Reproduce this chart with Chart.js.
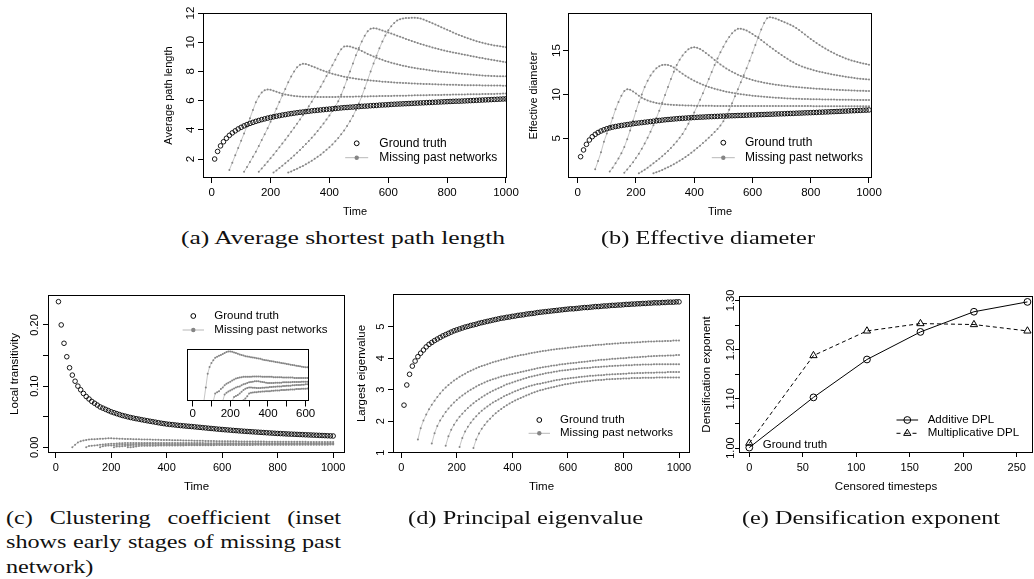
<!DOCTYPE html>
<html>
<head>
<meta charset="utf-8">
<script src="https://cdn.jsdelivr.net/npm/chart.js@4.4.1/dist/chart.umd.min.js"></script>
<style>
  body { margin: 0; width: 1034px; height: 579px; overflow: hidden; background: #fff; position: relative; }
  canvas { position: absolute; }
  .cap { position: absolute; font-family: "Liberation Serif", "Times New Roman", serif; font-size: 19px; line-height: 19px; color: #111; white-space: nowrap; transform-origin: 0 50%; }
  .just { white-space: normal; text-align: justify; text-align-last: justify; }
</style>
</head>
<body>
<canvas id="chA"></canvas>
<canvas id="chB"></canvas>
<canvas id="chC"></canvas>
<canvas id="chInset"></canvas>
<canvas id="chD"></canvas>
<canvas id="chE"></canvas>
<div class="cap" id="capA">(a) Average shortest path length</div>
<div class="cap" id="capB">(b) Effective diameter</div>
<div class="cap just" id="capC1">(c) Clustering coefficient (inset</div>
<div class="cap just" id="capC2">shows early stages of missing past</div>
<div class="cap" id="capC3">network)</div>
<div class="cap" id="capD">(d) Principal eigenvalue</div>
<div class="cap" id="capE">(e) Densification exponent</div>
<script>
// ---- data ----
const time = [10,20,30,40,50,60,70,80,90,100,110,120,130,140,150,160,170,180,190,200,
  210,220,230,240,250,260,270,280,290,300,310,320,330,340,350,360,370,380,390,400,
  410,420,430,440,450,460,470,480,490,500,510,520,530,540,550,560,570,580,590,600,
  610,620,630,640,650,660,670,680,690,700,710,720,730,740,750,760,770,780,790,800,
  810,820,830,840,850,860,870,880,890,900,910,920,930,940,950,960,970,980,990,1000];
const missingStarts = [60, 110, 160, 210, 260];

// (a) average path length
const pathGround = [2.00,2.52,2.90,3.18,3.42,3.62,3.79,3.93,4.06,4.17,
  4.27,4.36,4.44,4.51,4.58,4.64,4.70,4.75,4.80,4.85,
  4.89,4.93,4.97,5.01,5.04,5.08,5.11,5.14,5.17,5.20,
  5.22,5.25,5.27,5.30,5.32,5.34,5.36,5.38,5.40,5.42,
  5.44,5.46,5.48,5.50,5.52,5.53,5.55,5.56,5.58,5.59,
  5.61,5.62,5.63,5.65,5.66,5.67,5.69,5.70,5.71,5.72,
  5.74,5.75,5.76,5.77,5.78,5.79,5.80,5.81,5.82,5.83,
  5.84,5.85,5.86,5.87,5.88,5.89,5.90,5.91,5.92,5.93,
  5.94,5.95,5.96,5.96,5.97,5.98,5.99,6.00,6.01,6.02,
  6.03,6.04,6.05,6.06,6.07,6.08,6.09,6.10,6.11,6.12];
const pathMissing1 = [1.25,1.75,2.25,2.75,3.25,3.75,4.25,4.80,5.35,5.88,
  6.28,6.56,6.71,6.76,6.74,6.68,6.61,6.54,6.47,6.42,
  6.38,6.35,6.32,6.30,6.28,6.27,6.27,6.26,6.26,6.26,
  6.25,6.25,6.25,6.25,6.25,6.25,6.25,6.26,6.26,6.26,
  6.27,6.27,6.27,6.28,6.28,6.28,6.29,6.29,6.30,6.30,
  6.30,6.31,6.31,6.32,6.32,6.32,6.33,6.33,6.34,6.34,
  6.34,6.35,6.35,6.36,6.36,6.36,6.37,6.37,6.38,6.38,
  6.38,6.39,6.39,6.40,6.40,6.40,6.41,6.41,6.42,6.42,
  6.42,6.43,6.43,6.44,6.44,6.44,6.45,6.45,6.46,6.46,
  6.46,6.47,6.47,6.48,6.48];
const pathMissing2 = [1.13,1.45,1.80,2.15,2.50,2.90,3.30,3.70,4.10,4.55,
  5.00,5.45,5.90,6.35,6.80,7.25,7.65,8.00,8.28,8.45,
  8.52,8.50,8.44,8.36,8.28,8.20,8.12,8.04,7.97,7.90,
  7.84,7.78,7.73,7.68,7.64,7.60,7.56,7.53,7.50,7.47,
  7.45,7.42,7.40,7.38,7.36,7.34,7.32,7.30,7.29,7.27,
  7.26,7.24,7.23,7.22,7.21,7.20,7.19,7.18,7.17,7.16,
  7.15,7.14,7.14,7.13,7.12,7.12,7.11,7.10,7.10,7.09,
  7.09,7.08,7.08,7.07,7.07,7.06,7.06,7.06,7.05,7.05,
  7.05,7.04,7.04,7.04,7.03,7.03,7.03,7.03,7.02,7.02];
const pathMissing3 = [1.13,1.35,1.58,1.82,2.06,2.30,2.55,2.80,3.06,3.32,
  3.59,3.86,4.14,4.42,4.71,5.00,5.30,5.61,5.93,6.26,
  6.60,6.95,7.31,7.68,8.05,8.42,8.80,9.20,9.52,9.70,
  9.73,9.70,9.64,9.57,9.49,9.40,9.30,9.20,9.11,9.02,
  8.94,8.86,8.79,8.72,8.66,8.60,8.54,8.49,8.44,8.39,
  8.35,8.31,8.27,8.23,8.20,8.17,8.14,8.11,8.08,8.05,
  8.03,8.00,7.98,7.96,7.94,7.92,7.90,7.88,7.86,7.84,
  7.82,7.80,7.79,7.77,7.75,7.74,7.72,7.71,7.70,7.69,
  7.68,7.67,7.67,7.66,7.66];
const pathMissing4 = [1.07,1.22,1.38,1.54,1.71,1.88,2.06,2.24,2.43,2.62,
  2.82,3.02,3.23,3.45,3.68,3.92,4.17,4.43,4.70,4.98,
  5.28,5.60,5.95,6.40,6.90,7.45,8.00,8.55,9.10,9.60,
  10.05,10.45,10.75,10.92,10.96,10.93,10.87,10.80,10.73,10.66,
  10.59,10.52,10.45,10.38,10.31,10.22,10.15,10.08,10.01,9.94,
  9.88,9.82,9.76,9.70,9.64,9.58,9.53,9.48,9.43,9.38,
  9.34,9.30,9.26,9.22,9.18,9.14,9.10,9.06,9.02,8.98,
  8.94,8.91,8.87,8.84,8.80,8.77,8.73,8.70,8.66,8.63];
const pathMissing5 = [1.07,1.15,1.24,1.33,1.43,1.53,1.64,1.76,1.88,2.01,
  2.15,2.30,2.46,2.63,2.81,3.00,3.21,3.44,3.69,3.96,
  4.26,4.59,4.95,5.35,5.80,6.30,6.85,7.42,8.00,8.55,
  9.08,9.58,10.05,10.46,10.82,11.10,11.32,11.48,11.58,11.63,
  11.65,11.66,11.67,11.67,11.66,11.62,11.55,11.47,11.39,11.30,
  11.21,11.12,11.03,10.94,10.85,10.76,10.67,10.58,10.50,10.42,
  10.34,10.27,10.20,10.13,10.07,10.01,9.96,9.91,9.86,9.82,
  9.78,9.75,9.72,9.69,9.66];

// (b) effective diameter
const diamGround = [2.90,3.67,4.31,4.80,5.18,5.45,5.66,5.83,5.97,6.09,
  6.19,6.27,6.34,6.40,6.46,6.51,6.56,6.61,6.66,6.71,
  6.75,6.79,6.83,6.87,6.91,6.95,6.99,7.03,7.07,7.11,
  7.14,7.17,7.20,7.23,7.26,7.28,7.30,7.33,7.35,7.37,
  7.39,7.41,7.42,7.44,7.46,7.47,7.49,7.50,7.52,7.53,
  7.54,7.56,7.57,7.58,7.60,7.61,7.62,7.63,7.65,7.66,
  7.67,7.69,7.70,7.71,7.73,7.74,7.75,7.77,7.78,7.79,
  7.80,7.82,7.83,7.84,7.86,7.87,7.88,7.90,7.91,7.92,
  7.94,7.95,7.97,7.98,8.00,8.01,8.03,8.04,8.06,8.07,
  8.09,8.10,8.12,8.14,8.15,8.17,8.18,8.20,8.21,8.23];
const diamMissing1 = [1.47,2.40,3.40,4.60,5.55,6.35,7.30,8.30,9.15,9.85,
  10.40,10.60,10.55,10.35,10.10,9.85,9.62,9.45,9.32,9.20,
  9.10,9.02,8.96,8.92,8.88,8.85,8.83,8.81,8.79,8.77,
  8.76,8.75,8.74,8.73,8.72,8.72,8.71,8.71,8.70,8.70,
  8.70,8.69,8.69,8.69,8.68,8.68,8.68,8.68,8.68,8.68,
  8.68,8.68,8.68,8.68,8.68,8.68,8.68,8.68,8.68,8.68,
  8.68,8.68,8.68,8.67,8.67,8.67,8.67,8.67,8.67,8.67,
  8.67,8.67,8.67,8.67,8.67,8.66,8.66,8.66,8.66,8.66,
  8.66,8.66,8.66,8.66,8.66,8.66,8.66,8.66,8.66,8.66,
  8.66,8.66,8.66,8.66,8.66];
const diamMissing2 = [1.20,1.65,2.15,2.70,3.30,4.00,4.90,5.90,7.00,8.10,
  9.10,10.00,10.85,11.55,12.15,12.62,12.98,13.22,13.36,13.40,
  13.36,13.24,13.06,12.84,12.60,12.36,12.13,11.92,11.73,11.56,
  11.40,11.25,11.11,10.98,10.86,10.75,10.65,10.56,10.47,10.39,
  10.32,10.25,10.19,10.13,10.08,10.03,9.98,9.94,9.90,9.86,
  9.83,9.80,9.77,9.74,9.71,9.68,9.66,9.63,9.61,9.59,
  9.57,9.55,9.54,9.52,9.51,9.50,9.49,9.48,9.47,9.46,
  9.45,9.44,9.44,9.43,9.42,9.42,9.41,9.41,9.40,9.40,
  9.40,9.39,9.39,9.39,9.38,9.38,9.38,9.37,9.37,9.37];
const diamMissing3 = [1.08,1.45,1.85,2.28,2.75,3.25,3.80,4.40,5.05,5.75,
  6.50,7.30,8.15,9.05,9.95,10.85,11.75,12.60,13.35,13.95,
  14.45,14.85,15.15,15.32,15.38,15.32,15.18,14.98,14.74,14.48,
  14.21,13.94,13.68,13.43,13.19,12.97,12.77,12.58,12.41,12.25,
  12.11,11.98,11.86,11.75,11.65,11.56,11.48,11.41,11.34,11.28,
  11.22,11.17,11.12,11.07,11.03,10.99,10.95,10.91,10.88,10.85,
  10.82,10.79,10.76,10.73,10.71,10.68,10.66,10.64,10.62,10.60,
  10.58,10.56,10.54,10.53,10.51,10.50,10.48,10.47,10.46,10.44,
  10.43,10.42,10.41,10.40,10.39];
const diamMissing4 = [1.00,1.20,1.42,1.65,1.89,2.14,2.40,2.67,2.95,3.24,
  3.56,3.90,4.26,4.64,5.05,5.50,6.05,6.65,7.30,7.95,
  8.65,9.40,10.15,10.95,11.75,12.55,13.35,14.10,14.80,15.45,
  16.05,16.55,16.98,17.30,17.48,17.50,17.42,17.28,17.10,16.90,
  16.68,16.45,16.20,15.95,15.70,15.45,15.20,14.96,14.72,14.49,
  14.27,14.06,13.85,13.66,13.48,13.32,13.19,13.07,12.96,12.86,
  12.77,12.68,12.60,12.52,12.45,12.38,12.31,12.25,12.19,12.13,
  12.07,12.02,11.97,11.92,11.87,11.83,11.79,11.76,11.73,11.70];
const diamMissing5 = [1.00,1.12,1.25,1.39,1.54,1.70,1.87,2.05,2.24,2.44,
  2.65,2.87,3.10,3.35,3.61,3.88,4.16,4.45,4.75,5.06,
  5.38,5.71,6.05,6.45,6.95,7.55,8.25,9.00,9.80,10.60,
  11.40,12.20,13.00,13.85,14.75,15.65,16.55,17.40,18.15,18.70,
  18.80,18.75,18.65,18.52,18.38,18.24,18.10,17.95,17.78,17.58,
  17.35,17.10,16.84,16.58,16.33,16.09,15.86,15.64,15.43,15.23,
  15.04,14.86,14.69,14.53,14.38,14.24,14.11,13.99,13.88,13.78,
  13.69,13.61,13.53,13.46,13.40];

// (c) local transitivity
const clustGround = [0.238,0.200,0.170,0.148,0.130,0.118,0.108,0.100,0.094,0.088,
  0.083,0.079,0.075,0.072,0.069,0.066,0.064,0.062,0.060,0.058,
  0.0565,0.055,0.0535,0.052,0.051,0.0498,0.0487,0.0477,0.0468,0.0460,
  0.0451,0.0442,0.0434,0.0426,0.0418,0.0410,0.0402,0.0394,0.0387,0.0380,
  0.0375,0.0370,0.0365,0.0360,0.0355,0.0351,0.0347,0.0343,0.0339,0.0335,
  0.0330,0.0326,0.0321,0.0317,0.0312,0.0308,0.0304,0.0299,0.0295,0.0291,
  0.0287,0.0284,0.0280,0.0276,0.0273,0.0269,0.0266,0.0262,0.0259,0.0256,
  0.0253,0.0250,0.0247,0.0244,0.0241,0.0238,0.0235,0.0232,0.0229,0.0226,
  0.0224,0.0222,0.0219,0.0217,0.0215,0.0213,0.0211,0.0209,0.0207,0.0205,
  0.0203,0.0201,0.0199,0.0197,0.0195,0.0193,0.0191,0.0189,0.0187,0.0185];
const clustMissing1 = [0.0000,0.0040,0.0080,0.0100,0.0112,0.0120,0.0127,0.0130,0.0133,0.0135,
  0.0138,0.0141,0.0144,0.0146,0.0146,0.0145,0.0143,0.0141,0.0139,0.0137,
  0.0135,0.0134,0.0132,0.0131,0.0130,0.0129,0.0128,0.0127,0.0126,0.0125,
  0.0124,0.0122,0.0121,0.0120,0.0119,0.0118,0.0117,0.0116,0.0115,0.0114,
  0.0113,0.0112,0.0111,0.0110,0.0109,0.0108,0.0107,0.0106,0.0105,0.0104,
  0.0103,0.0102,0.0101,0.0100,0.0099,0.0099,0.0098,0.0098,0.0097,0.0097,
  0.0096,0.0096,0.0095,0.0095,0.0094,0.0094,0.0094,0.0093,0.0093,0.0093,
  0.0092,0.0092,0.0092,0.0091,0.0091,0.0091,0.0091,0.0090,0.0090,0.0090,
  0.0090,0.0089,0.0089,0.0089,0.0089,0.0088,0.0088,0.0088,0.0088,0.0088,
  0.0087,0.0087,0.0087,0.0087,0.0087];
const clustMissing2 = [0.0000,0.0022,0.0026,0.0029,0.0035,0.0040,0.0046,0.0051,0.0054,0.0057,
  0.0060,0.0063,0.0066,0.0068,0.0069,0.0070,0.0071,0.0071,0.0071,0.0071,
  0.0071,0.0072,0.0072,0.0072,0.0072,0.0072,0.0071,0.0071,0.0071,0.0071,
  0.0071,0.0071,0.0070,0.0070,0.0070,0.0070,0.0070,0.0069,0.0069,0.0069,
  0.0069,0.0069,0.0069,0.0068,0.0068,0.0068,0.0068,0.0068,0.0068,0.0068,
  0.0068,0.0067,0.0067,0.0067,0.0067,0.0067,0.0067,0.0067,0.0066,0.0066,
  0.0066,0.0066,0.0066,0.0066,0.0066,0.0066,0.0066,0.0066,0.0066,0.0066,
  0.0066,0.0065,0.0065,0.0065,0.0065,0.0065,0.0065,0.0065,0.0065,0.0065,
  0.0065,0.0065,0.0065,0.0065,0.0065,0.0065,0.0065,0.0065,0.0065,0.0065];
const clustMissing3 = [0.0000,0.0019,0.0024,0.0028,0.0031,0.0034,0.0037,0.0040,0.0042,0.0043,
  0.0046,0.0049,0.0051,0.0053,0.0055,0.0056,0.0057,0.0058,0.0058,0.0058,
  0.0057,0.0056,0.0055,0.0054,0.0053,0.0053,0.0053,0.0053,0.0054,0.0054,
  0.0054,0.0054,0.0055,0.0055,0.0055,0.0055,0.0055,0.0056,0.0056,0.0056,
  0.0056,0.0056,0.0057,0.0057,0.0057,0.0057,0.0057,0.0057,0.0057,0.0057,
  0.0057,0.0057,0.0057,0.0057,0.0057,0.0057,0.0058,0.0058,0.0058,0.0058,
  0.0058,0.0058,0.0058,0.0058,0.0058,0.0058,0.0058,0.0058,0.0058,0.0058,
  0.0058,0.0058,0.0058,0.0058,0.0058,0.0058,0.0058,0.0058,0.0058,0.0058,
  0.0058,0.0058,0.0058,0.0058,0.0058];
const clustMissing4 = [0.0000,0.0012,0.0015,0.0018,0.0022,0.0027,0.0032,0.0036,0.0038,0.0040,
  0.0040,0.0039,0.0039,0.0038,0.0038,0.0038,0.0039,0.0039,0.0040,0.0040,
  0.0041,0.0041,0.0042,0.0042,0.0043,0.0043,0.0043,0.0044,0.0044,0.0045,
  0.0045,0.0045,0.0046,0.0046,0.0047,0.0047,0.0047,0.0048,0.0048,0.0049,
  0.0049,0.0050,0.0050,0.0050,0.0050,0.0050,0.0051,0.0051,0.0051,0.0051,
  0.0051,0.0051,0.0051,0.0052,0.0052,0.0052,0.0052,0.0052,0.0052,0.0052,
  0.0052,0.0052,0.0052,0.0052,0.0052,0.0052,0.0053,0.0053,0.0053,0.0053,
  0.0053,0.0053,0.0053,0.0053,0.0053,0.0053,0.0053,0.0053,0.0053,0.0053];
const clustMissing5 = [0.0000,0.0002,0.0007,0.0014,0.0022,0.0024,0.0025,0.0026,0.0026,0.0027,
  0.0027,0.0028,0.0028,0.0029,0.0029,0.0029,0.0030,0.0030,0.0031,0.0031,
  0.0031,0.0032,0.0032,0.0032,0.0033,0.0033,0.0034,0.0034,0.0034,0.0035,
  0.0035,0.0035,0.0036,0.0036,0.0036,0.0037,0.0037,0.0037,0.0038,0.0038,
  0.0038,0.0038,0.0039,0.0039,0.0039,0.0039,0.0040,0.0040,0.0040,0.0040,
  0.0040,0.0041,0.0041,0.0041,0.0041,0.0041,0.0042,0.0042,0.0042,0.0042,
  0.0042,0.0042,0.0042,0.0043,0.0043,0.0043,0.0043,0.0043,0.0043,0.0043,
  0.0043,0.0043,0.0043,0.0044,0.0044];

// (d) largest eigenvalue
const eigGround = [2.51,3.15,3.49,3.75,3.91,4.05,4.16,4.26,4.36,4.44,
  4.50,4.56,4.61,4.66,4.71,4.75,4.79,4.83,4.87,4.90,
  4.93,4.96,4.99,5.01,5.04,5.06,5.08,5.11,5.13,5.15,
  5.17,5.19,5.21,5.23,5.25,5.27,5.28,5.30,5.31,5.33,
  5.34,5.36,5.37,5.38,5.40,5.41,5.42,5.43,5.45,5.46,
  5.47,5.48,5.49,5.50,5.51,5.52,5.53,5.54,5.55,5.56,
  5.57,5.57,5.58,5.59,5.60,5.61,5.61,5.62,5.63,5.64,
  5.64,5.65,5.66,5.66,5.67,5.68,5.68,5.69,5.69,5.70,
  5.71,5.71,5.72,5.72,5.73,5.73,5.74,5.74,5.75,5.75,
  5.76,5.76,5.76,5.77,5.77,5.78,5.78,5.78,5.79,5.79];
const eigMissing1 = [1.42,1.78,2.02,2.21,2.38,2.52,2.65,2.77,2.88,2.98,
  3.07,3.15,3.22,3.29,3.35,3.41,3.46,3.51,3.56,3.60,
  3.64,3.68,3.72,3.75,3.78,3.81,3.84,3.87,3.90,3.92,
  3.95,3.97,3.99,4.02,4.04,4.06,4.08,4.10,4.11,4.13,
  4.15,4.17,4.18,4.20,4.21,4.23,4.24,4.25,4.27,4.28,
  4.29,4.30,4.31,4.32,4.33,4.34,4.35,4.36,4.37,4.38,
  4.39,4.40,4.40,4.41,4.42,4.43,4.43,4.44,4.45,4.45,
  4.46,4.47,4.47,4.48,4.48,4.49,4.49,4.50,4.50,4.51,
  4.51,4.52,4.52,4.53,4.53,4.53,4.54,4.54,4.54,4.55,
  4.55,4.55,4.56,4.56,4.56];
const eigMissing2 = [1.29,1.62,1.85,2.02,2.16,2.29,2.40,2.50,2.59,2.67,
  2.75,2.82,2.88,2.94,3.00,3.05,3.10,3.15,3.19,3.23,
  3.27,3.30,3.33,3.36,3.39,3.42,3.44,3.46,3.48,3.50,
  3.52,3.54,3.56,3.58,3.60,3.62,3.64,3.66,3.68,3.70,
  3.71,3.73,3.74,3.76,3.77,3.78,3.80,3.81,3.82,3.83,
  3.84,3.85,3.86,3.87,3.88,3.89,3.90,3.91,3.92,3.93,
  3.94,3.95,3.95,3.96,3.97,3.98,3.98,3.99,4.00,4.00,
  4.01,4.02,4.02,4.03,4.03,4.04,4.05,4.05,4.06,4.06,
  4.07,4.07,4.08,4.08,4.08,4.09,4.09,4.09,4.10,4.10];
const eigMissing3 = [1.22,1.52,1.73,1.89,2.02,2.14,2.24,2.33,2.42,2.50,
  2.57,2.64,2.70,2.76,2.82,2.87,2.92,2.97,3.01,3.05,
  3.09,3.13,3.17,3.20,3.23,3.26,3.29,3.32,3.35,3.37,
  3.40,3.42,3.44,3.46,3.48,3.50,3.52,3.54,3.55,3.57,
  3.58,3.60,3.61,3.62,3.63,3.64,3.65,3.66,3.67,3.68,
  3.69,3.69,3.70,3.71,3.72,3.72,3.73,3.74,3.74,3.75,
  3.75,3.76,3.76,3.77,3.77,3.78,3.78,3.78,3.79,3.79,
  3.79,3.80,3.80,3.80,3.80,3.81,3.81,3.81,3.81,3.81,
  3.81,3.81,3.81,3.81,3.81];
const eigMissing4 = [1.18,1.47,1.67,1.82,1.95,2.06,2.16,2.25,2.33,2.40,
  2.47,2.53,2.59,2.64,2.69,2.74,2.79,2.83,2.87,2.91,
  2.95,2.98,3.02,3.05,3.08,3.11,3.13,3.16,3.18,3.19,
  3.21,3.23,3.25,3.27,3.29,3.31,3.32,3.34,3.35,3.36,
  3.37,3.38,3.39,3.40,3.41,3.42,3.43,3.44,3.44,3.45,
  3.46,3.46,3.47,3.48,3.48,3.49,3.49,3.50,3.50,3.51,
  3.51,3.52,3.52,3.52,3.53,3.53,3.53,3.54,3.54,3.54,
  3.54,3.55,3.55,3.55,3.55,3.56,3.56,3.56,3.56,3.56];
const eigMissing5 = [1.15,1.42,1.61,1.76,1.88,1.99,2.08,2.17,2.25,2.32,
  2.39,2.45,2.51,2.56,2.61,2.66,2.70,2.74,2.78,2.82,
  2.85,2.89,2.92,2.95,2.98,3.00,3.03,3.05,3.07,3.09,
  3.11,3.13,3.15,3.17,3.18,3.20,3.21,3.23,3.24,3.25,
  3.26,3.27,3.28,3.29,3.30,3.31,3.31,3.32,3.33,3.33,
  3.34,3.34,3.35,3.35,3.36,3.36,3.36,3.37,3.37,3.37,
  3.37,3.38,3.38,3.38,3.38,3.38,3.39,3.39,3.39,3.39,
  3.39,3.39,3.39,3.39,3.39];

// (e) densification exponent
const censored = [0, 60, 110, 160, 210, 260];
const additiveDPL = [1.001, 1.103, 1.180, 1.236, 1.277, 1.297];
const multiplicativeDPL = [1.010, 1.188, 1.238, 1.253, 1.251, 1.238];

// tick values and labels
const timeTicks = [0, 200, 400, 600, 800, 1000];
const timeLabels = ['0', '200', '400', '600', '800', '1000'];
const pathTicks = [2, 4, 6, 8, 10, 12];
const pathLabels = ['2', '4', '6', '8', '10', '12'];
const diamTicks = [5, 10, 15];
const diamLabels = ['5', '10', '15'];
const clustTicks = [0, 0.05, 0.10, 0.15, 0.20];
const clustLabels = ['0.00', '', '0.10', '', '0.20'];
const eigTicks = [1, 2, 3, 4, 5];
const eigLabels = ['1', '2', '3', '4', '5'];
const insetTicks = [0, 100, 200, 300, 400, 500, 600];
const insetLabels = ['0', '', '200', '', '400', '', '600'];
const censorTicks = [0, 50, 100, 150, 200, 250];
const censorLabels = ['0', '50', '100', '150', '200', '250'];
const densTicks = [1.00, 1.05, 1.10, 1.15, 1.20, 1.25, 1.30];
const densLabels = ['1.00', '', '1.10', '', '1.20', '', '1.30'];

// ---- drawing ----
const SANS = '"Liberation Sans", Arial, Helvetica, sans-serif';
Chart.defaults.font.family = SANS;
const GREY_LINE = '#b8b8b8', GREY_DOT = '#858585';

function ground(vals) {
  return {
    data: vals.map((v, i) => ({x: time[i], y: v})), showLine: false, order: 0,
    pointRadius: 2.3, pointBorderWidth: 0.9, pointBorderColor: '#000', pointBackgroundColor: 'rgba(0,0,0,0)'
  };
}
function missing(series) {
  return series.map((vals, k) => {
    const s = time.indexOf(missingStarts[k]);
    return {
      data: vals.map((v, i) => ({x: time[s + i], y: v})), order: 1,
      borderColor: GREY_LINE, borderWidth: 0.8, pointRadius: 1.0, pointBorderWidth: 0, pointBackgroundColor: GREY_DOT
    };
  });
}

// box round the plot region, like R's box()
const frame = {
  id: 'frame',
  beforeDatasetsDraw(chart, args, o) {
    if (!o || !o.fill) return;
    const a = chart.chartArea, ctx = chart.ctx;
    ctx.save(); ctx.fillStyle = o.fill;
    ctx.fillRect(a.left, a.top, a.right - a.left, a.bottom - a.top);
    ctx.restore();
  },
  afterDatasetsDraw(chart) {
    const a = chart.chartArea, ctx = chart.ctx;
    ctx.save(); ctx.strokeStyle = '#000'; ctx.lineWidth = 1;
    ctx.strokeRect(a.left + 0.5, a.top + 0.5, a.right - a.left - 1, a.bottom - a.top - 1);
    ctx.restore();
  }
};

// legend in the style of R's legend(bty = "n")
const rLegend = {
  id: 'rlegend',
  afterDraw(chart, args, o) {
    if (!o || !o.rows) return;
    const ctx = chart.ctx, a = chart.chartArea;
    ctx.save();
    ctx.font = o.size + 'px ' + SANS;
    ctx.textBaseline = 'middle';
    o.rows.forEach(r => {
      const cx = a.left + o.symX, cy = a.top + r.y, h = o.half;
      ctx.lineWidth = 1;
      if (r.sym === 'grey') {
        ctx.strokeStyle = GREY_LINE;
        ctx.beginPath(); ctx.moveTo(cx - h, cy); ctx.lineTo(cx + h, cy); ctx.stroke();
        ctx.fillStyle = GREY_DOT;
        ctx.beginPath(); ctx.arc(cx, cy, 2.2, 0, Math.PI * 2); ctx.fill();
      } else {
        ctx.strokeStyle = '#000';
        if (r.sym !== 'open') {
          ctx.setLineDash(r.sym === 'dashTri' ? [4, 4] : []);
          ctx.beginPath(); ctx.moveTo(cx - h, cy); ctx.lineTo(cx + h, cy); ctx.stroke();
          ctx.setLineDash([]);
        }
        ctx.fillStyle = 'rgba(0,0,0,0)';
        Chart.helpers.drawPoint(ctx, {
          pointStyle: r.sym === 'dashTri' ? 'triangle' : 'circle',
          radius: r.sym === 'open' ? 2.4 : (r.sym === 'dashTri' ? 4.2 : 3.4),
          borderWidth: 1, rotation: 0
        }, cx, cy);
      }
      ctx.fillStyle = '#000';
      ctx.fillText(r.text, a.left + o.textX, cy);
    });
    (o.notes || []).forEach(n => {
      ctx.fillStyle = '#000';
      ctx.fillText(n.text, a.left + n.x, a.top + n.y);
    });
    ctx.restore();
  }
};

const measureCtx = document.createElement('canvas').getContext('2d');
function textWidth(s, size) { measureCtx.font = size + 'px ' + SANS; return measureCtx.measureText(s).width; }

const PAD_L = 50, PAD_T = 12, PAD_R = 20, PAD_B = 46;

function makePanel(id, p) {
  const cv = document.getElementById(id);
  cv.width = p.box.r - p.box.l + PAD_L + PAD_R;
  cv.height = p.box.b - p.box.t + PAD_T + PAD_B;
  cv.style.left = (p.box.l - PAD_L) + 'px';
  cv.style.top = (p.box.t - PAD_T) + 'px';
  const tl = p.tick;
  const widest = Math.max(...p.yLabels.map(s => textWidth(s, p.fs)));
  const tickFont = {family: SANS, size: p.fs};
  const titleFont = {family: SANS, size: p.tfs};
  const tickGrid = {drawOnChartArea: false, drawTicks: true, tickLength: tl, color: '#000', lineWidth: 1};
  return new Chart(cv, {
    type: 'line',
    data: {datasets: p.datasets},
    options: {
      responsive: false, animation: false, devicePixelRatio: 1,
      layout: {padding: {left: 0, top: PAD_T, right: PAD_R, bottom: 0}},
      plugins: {legend: {display: false}, tooltip: {enabled: false}, rlegend: p.legend},
      scales: {
        x: {
          type: 'linear', position: 'bottom', min: p.xRange[0], max: p.xRange[1],
          afterBuildTicks: s => { s.ticks = p.xTicks.map(v => ({value: v})); },
          afterFit: s => { s.height = PAD_B; },
          border: {display: false}, grid: tickGrid,
          ticks: {autoSkip: false, minRotation: 0, maxRotation: 0, color: '#000', font: tickFont,
            padding: p.xLab - tl - p.fs * 0.6, callback: (v, i) => p.xLabels[i]},
          title: {display: true, text: p.xTitle, color: '#000', font: titleFont,
            padding: {top: 0, bottom: PAD_B - p.xTit - p.tfs * 0.6}}
        },
        y: {
          type: 'linear', position: 'left', min: p.yRange[0], max: p.yRange[1],
          afterBuildTicks: s => { s.ticks = p.yTicks.map(v => ({value: v})); },
          afterFit: s => { s.width = PAD_L; },
          border: {display: false}, grid: tickGrid,
          ticks: {autoSkip: false, minRotation: 90, maxRotation: 90, crossAlign: 'center', color: '#000', font: tickFont,
            padding: p.yLab - tl - widest / 2, callback: (v, i) => p.yLabels[i]},
          title: {display: true, text: p.yTitle, color: '#000', font: titleFont,
            padding: {top: PAD_L - p.yTit - p.tfs * 0.6, bottom: 0}}
        }
      }
    },
    plugins: [frame, rLegend]
  });
}

const topLegend = (symX, textX, y1, y2) => ({size: 12, symX, textX, half: 11.5,
  rows: [{sym: 'open', text: 'Ground truth', y: y1}, {sym: 'grey', text: 'Missing past networks', y: y2}]});
const lowLegend = (symX, textX, y1, y2) => ({size: 11.5, symX, textX, half: 10.7,
  rows: [{sym: 'open', text: 'Ground truth', y: y1}, {sym: 'grey', text: 'Missing past networks', y: y2}]});

makePanel('chA', {
  box: {l: 203, t: 13, r: 507, b: 178}, xRange: [-29.6, 1003.4], yRange: [0.70, 12.0],
  xTicks: timeTicks, xLabels: timeLabels, yTicks: pathTicks, yLabels: pathLabels,
  xTitle: 'Time', yTitle: 'Average path length', fs: 11.5, tfs: 11, tick: 5,
  xLab: 15, xTit: 34.4, yLab: 12.6, yTit: 34,
  datasets: [ground(pathGround), ...missing([pathMissing1, pathMissing2, pathMissing3, pathMissing4, pathMissing5])],
  legend: topLegend(153.7, 176.3, 130.3, 144.7)
});

makePanel('chB', {
  box: {l: 568, t: 13, r: 872, b: 178}, xRange: [-33.3, 1010.3], yRange: [0.47, 19.29],
  xTicks: timeTicks, xLabels: timeLabels, yTicks: diamTicks, yLabels: diamLabels,
  xTitle: 'Time', yTitle: 'Effective diameter', fs: 11.5, tfs: 11, tick: 5,
  xLab: 15, xTit: 34.4, yLab: 10.7, yTit: 34,
  datasets: [ground(diamGround), ...missing([diamMissing1, diamMissing2, diamMissing3, diamMissing4, diamMissing5])],
  legend: topLegend(155.3, 177, 129.7, 144.7)
});

const clustSeries = [clustMissing1, clustMissing2, clustMissing3, clustMissing4, clustMissing5];
makePanel('chC', {
  box: {l: 48, t: 295, r: 345, b: 453}, xRange: [-27.7, 1042.6], yRange: [-0.0093, 0.2489],
  xTicks: timeTicks, xLabels: timeLabels, yTicks: clustTicks, yLabels: clustLabels,
  xTitle: 'Time', yTitle: 'Local transitivity', fs: 11, tfs: 11.5, tick: 5,
  xLab: 15, xTit: 34, yLab: 12.7, yTit: 32.7,
  datasets: [ground(clustGround), ...missing(clustSeries)],
  legend: lowLegend(145.3, 166.3, 21, 35)
});

makePanel('chD', {
  box: {l: 393, t: 294, r: 690, b: 453}, xRange: [-29.6, 1039.6], yRange: [0.99, 6.04],
  xTicks: timeTicks, xLabels: timeLabels, yTicks: eigTicks, yLabels: eigLabels,
  xTitle: 'Time', yTitle: 'Largest eigenvalue', fs: 11, tfs: 11.5, tick: 5,
  xLab: 15, xTit: 34, yLab: 12, yTit: 31,
  datasets: [ground(eigGround), ...missing([eigMissing1, eigMissing2, eigMissing3, eigMissing4, eigMissing5])],
  legend: lowLegend(146.3, 167, 126, 139.3)
});

makePanel('chE', {
  box: {l: 739, t: 296, r: 1033, b: 453}, xRange: [-9.6, 265.2], yRange: [0.990, 1.309],
  xTicks: censorTicks, xLabels: censorLabels, yTicks: densTicks, yLabels: densLabels,
  xTitle: 'Censored timesteps', yTitle: 'Densification exponent', fs: 11, tfs: 11.5, tick: 4,
  xLab: 15, xTit: 34, yLab: 8, yTit: 31.7,
  datasets: [
    {data: censored.map((c, i) => ({x: c, y: additiveDPL[i]})), borderColor: '#000', borderWidth: 1,
      pointRadius: 3.4, pointBorderWidth: 1, pointBorderColor: '#000', pointBackgroundColor: 'rgba(0,0,0,0)'},
    {data: censored.map((c, i) => ({x: c, y: multiplicativeDPL[i]})), borderColor: '#000', borderWidth: 1, borderDash: [4, 3],
      pointStyle: 'triangle', pointRadius: 4.2, pointBorderWidth: 1, pointBorderColor: '#000', pointBackgroundColor: 'rgba(0,0,0,0)'}
  ],
  legend: {size: 11.5, symX: 168.3, textX: 188.7, half: 10.8,
    rows: [{sym: 'solidCircle', text: 'Additive DPL', y: 124}, {sym: 'dashTri', text: 'Multiplicative DPL', y: 137.3}],
    notes: [{text: 'Ground truth', x: 23.7, y: 149}]}
});

// inset of (c): early stages of the missing past networks
(function () {
  const box = {l: 185, t: 347, r: 309, b: 401};
  const cv = document.getElementById('chInset');
  cv.width = box.r - box.l + 2 + 14; cv.height = box.b - box.t + 2 + 24;
  cv.style.left = (box.l - 2) + 'px'; cv.style.top = (box.t - 2) + 'px';
  new Chart(cv, {
    type: 'line',
    data: {datasets: missing(clustSeries)},
    options: {
      responsive: false, animation: false, devicePixelRatio: 1,
      layout: {padding: {left: 2, top: 2, right: 14, bottom: 0}},
      plugins: {legend: {display: false}, tooltip: {enabled: false}, frame: {fill: '#fff'}},
      scales: {
        x: {
          type: 'linear', min: -29.7, max: 617.7,
          afterBuildTicks: s => { s.ticks = insetTicks.map(v => ({value: v})); },
          afterFit: s => { s.height = 24; },
          border: {display: false},
          grid: {drawOnChartArea: false, drawTicks: true, tickLength: 5.5, color: '#000', lineWidth: 1},
          ticks: {autoSkip: false, minRotation: 0, maxRotation: 0, color: '#000', font: {family: SANS, size: 11.5},
            padding: 0, callback: (v, i) => insetLabels[i]}
        },
        y: {display: false, min: 0, max: 0.0153}
      }
    },
    plugins: [frame]
  });
})();

// captions (Computer Modern is wider than the serif we have, so stretch to the measured widths)
(function () {
  const el = id => document.getElementById(id);
  const natE = el('capE').getBoundingClientRect().width;
  const s = 258 / natE;
  [['capA', 181, 237, 324], ['capB', 601, 237, 214], ['capD', 408, 517, 235], ['capE', 742, 517, 258]]
    .forEach(([id, x, y, w]) => {
      const d = el(id);
      const nat = d.getBoundingClientRect().width;
      d.style.left = x + 'px'; d.style.top = (y - 9.5) + 'px';
      d.style.transform = 'scaleX(' + (w / nat) + ')';
    });
  [['capC1', 517.3], ['capC2', 541.7]].forEach(([id, y]) => {
    const d = el(id);
    d.style.width = (335 / s) + 'px';
    d.style.left = '6px'; d.style.top = (y - 9.5) + 'px';
    d.style.transform = 'scaleX(' + s + ')';
  });
  const c3 = el('capC3');
  c3.style.left = '6px'; c3.style.top = (566 - 9.5) + 'px';
  c3.style.transform = 'scaleX(' + s + ')';
})();
</script>
</body>
</html>
